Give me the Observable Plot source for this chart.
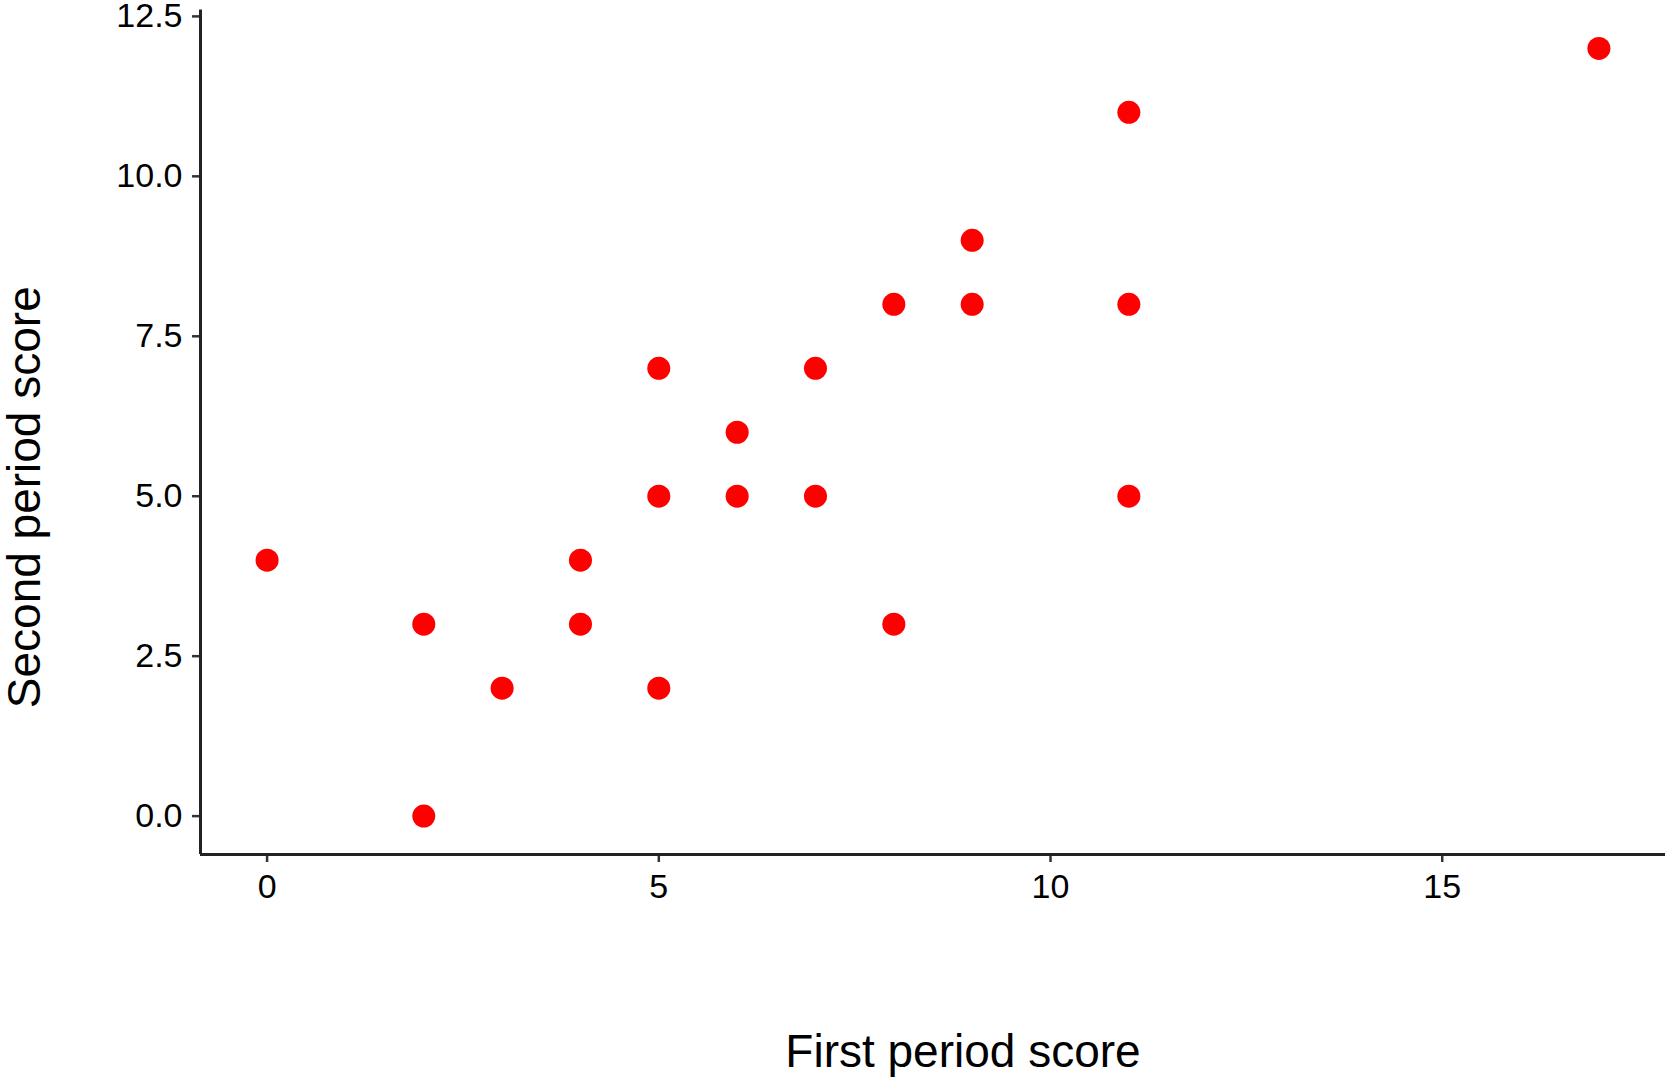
<!DOCTYPE html>
<html>
<head>
<meta charset="utf-8">
<script src="https://cdn.jsdelivr.net/npm/d3@7"></script>
<script src="https://cdn.jsdelivr.net/npm/@observablehq/plot@0.6"></script>
<style>
  html, body { margin: 0; padding: 0; background: #fff; }
</style>
</head>
<body>
<div id="chart"></div>
<script>
const firstPeriod  = [0, 2, 2, 3, 4, 4, 5, 5, 5, 6, 6, 7, 7, 8, 8, 9, 9, 11, 11, 11, 17];
const secondPeriod = [4, 3, 0, 2, 4, 3, 7, 5, 2, 6, 5, 7, 5, 8, 3, 9, 8, 11, 8, 5, 12];
const xTicks = [0, 5, 10, 15];
const yTicks = [0, 2.5, 5, 7.5, 10, 12.5];
const xDomain = [-0.85, 17.85];
const yDomain = [-0.6, 12.6];
const xLabel = "First period score";
const yLabel = "Second period score";

const data = firstPeriod.map((x, i) => ({x, y: secondPeriod[i]}));

const chart = Plot.plot({
  width: 1674,
  height: 1079,
  marginLeft: 200,
  marginRight: 9,
  marginTop: 9.5,
  marginBottom: 225,
  style: {fontFamily: "'Liberation Sans', Arial, sans-serif", fontSize: "34px", color: "#000", background: "#fff", overflow: "visible"},
  x: {domain: xDomain},
  y: {domain: yDomain},
  marks: [
    Plot.axisX({ticks: xTicks, tickSize: 8, tickPadding: 11, tickFormat: d => String(d), label: null, stroke: "#333", strokeWidth: 2.5}),
    Plot.axisY({ticks: yTicks, tickSize: 8, tickPadding: 10, tickFormat: d => d.toFixed(1), label: null, stroke: "#333", strokeWidth: 2.5}),
    Plot.ruleX([xDomain[0]], {stroke: "#222", strokeWidth: 3}),
    Plot.ruleY([yDomain[0]], {stroke: "#222", strokeWidth: 3}),
    Plot.dot(data, {x: "x", y: "y", r: 11.5, fill: "#ff0000", stroke: null}),
    Plot.text([xLabel], {frameAnchor: "bottom", textAnchor: "middle", lineAnchor: "middle", dx: 30, dy: 198, fontSize: 46, fill: "#000"}),
    Plot.text([yLabel], {frameAnchor: "left", textAnchor: "middle", lineAnchor: "middle", rotate: -90, dx: -175, dy: 65, fontSize: 46, fill: "#000"})
  ]
});
document.getElementById("chart").appendChild(chart);
</script>
</body>
</html>
